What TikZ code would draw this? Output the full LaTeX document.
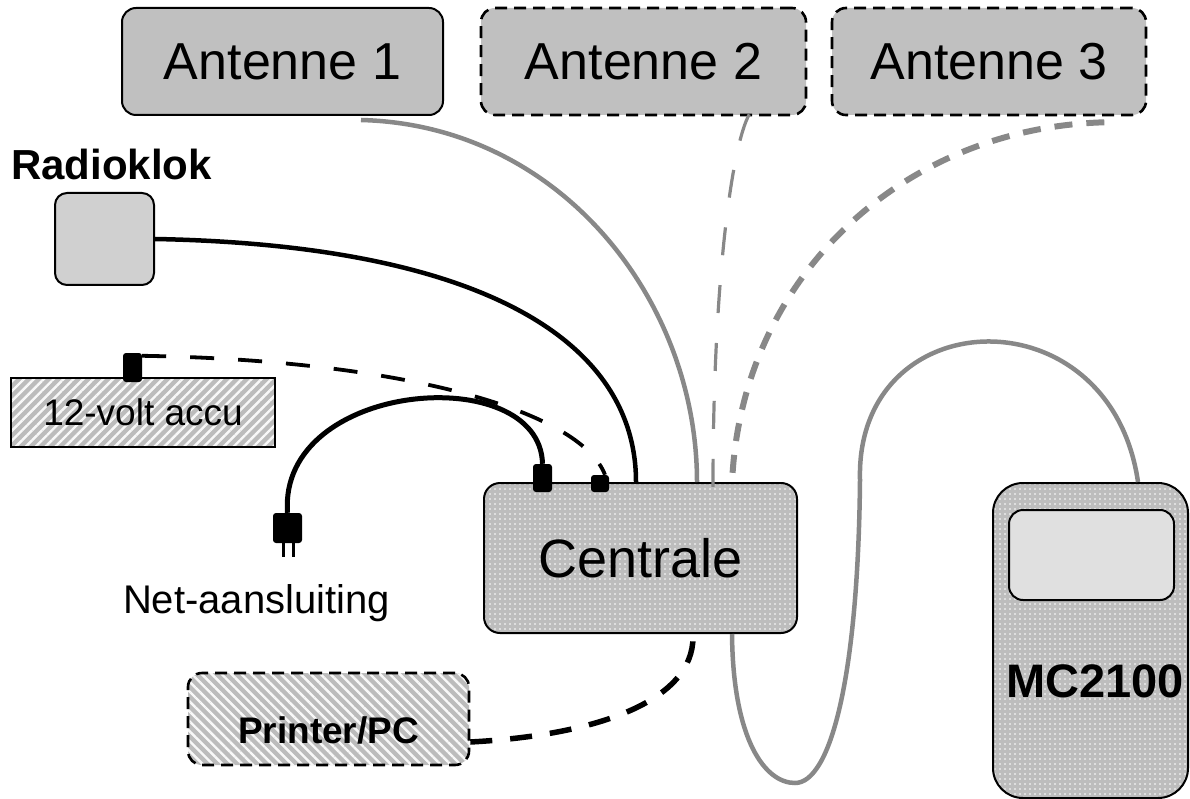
\documentclass[tikz,border=0pt]{standalone}
\usepackage{fontspec}
\setmainfont{Liberation Sans}
\usetikzlibrary{positioning, patterns.meta}

\definecolor{boxgray}{HTML}{C0C0C0}
\definecolor{klokgray}{HTML}{D0D0D0}
\definecolor{screengray}{HTML}{E0E0E0}
\definecolor{dotgray}{HTML}{BDBDBD}
\definecolor{hatchgray}{HTML}{BCBCBC}
\definecolor{cablegray}{HTML}{888888}

\tikzset{
  unit/.style={draw, line width=2pt, rounded corners=14pt, inner sep=0pt},
  antenna/.style={unit, fill=boxgray, minimum width=321pt, minimum height=107pt,
    font=\fontsize{52}{60}\selectfont},
  optional/.style={line width=2.6pt, dash pattern=on 12pt off 7pt},
  dotbox/.style={unit, preaction={fill=dotgray},
    pattern={Dots[distance=5pt,radius=1.1pt]}, pattern color=white!70!dotgray},
  hatchbox/.style={unit, preaction={fill=hatchgray},
    pattern={Lines[angle=#1,distance=7pt,line width=2.4pt]}, pattern color=white!90!hatchgray},
  plug/.style={fill=black, rounded corners=3pt, inner sep=0pt},
  cable/.style={line width=4.5pt, cablegray},
  wire/.style={line width=4.5pt, black},
}

\begin{document}
\begin{tikzpicture}[x=1pt, y=-1pt]
    \useasboundingbox (0,0) rectangle (1190,799);
    % Antennes
    \node (ant1) [antenna] at (282.5,61.5) {Antenne 1};
    \node (ant2) [antenna, optional, minimum width=325pt] at (643.5,61.5) {Antenne 2};
    \node (ant3) [antenna, optional, minimum width=314pt] at (989,61.5) {Antenne 3};

    % Radioklok
    \node (kloklabel) [font=\fontsize{42}{50}\selectfont\bfseries] at (111.5,164) {Radioklok};
    \node (klok) [unit, rounded corners=12pt, fill=klokgray, minimum width=99pt, minimum height=92pt] at (104.5,239) {};

    % Accu, centrale, printer
    \node (accu) [hatchbox=45, rounded corners=0pt, minimum width=264pt, minimum height=69pt,
      font=\fontsize{37}{44}\selectfont] at (143,412.5) {12-volt accu};
    \node (centrale) [dotbox, rounded corners=16pt, minimum width=313pt, minimum height=150pt,
      font=\fontsize{54}{62}\selectfont] at (640.5,558) {Centrale};
    \node (printer) [hatchbox=-45, optional, minimum width=281pt, minimum height=92pt] at (328.5,719) {};
    \node[yshift=-11pt, font=\fontsize{37}{44}\selectfont\bfseries] at (printer) {Printer/PC};

    % MC2100
    \node (mc) [dotbox, rounded corners=30pt, minimum width=195pt, minimum height=315pt] at (1090.5,640.5) {};
    \node (mcscreen) [unit, fill=screengray, minimum width=165pt, minimum height=90pt] at (1091.5,555) {};
    \node (mclabel) [font=\fontsize{47}{56}\selectfont\bfseries] at (1095,681.5) {MC2100};

    % Plugs
    \node (accuplug) [plug, minimum width=19pt, minimum height=29pt] at (132.5,367.5) {};
    \node (netplug) [plug, minimum width=29pt, minimum height=30pt] at (287.5,528) {};
    \node (bigplug) [plug, minimum width=19pt, minimum height=28pt] at (542.5,478) {};
    \node (smallplug) [plug, minimum width=18pt, minimum height=17pt] at (600,483.5) {};
    \draw [line width=3pt] ([xshift=-4.5pt]netplug.south) -- ++(0,14);
    \draw [line width=3pt] ([xshift=5.5pt]netplug.south) -- ++(0,14);
    \node (netlabel) [font=\fontsize{40}{48}\selectfont] at (256.5,603) {Net-aansluiting};

    % Black wires
    \draw [wire] (klok.east) .. controls (480,245) and (636,340) .. ([xshift=-4.5pt]centrale.north);
    \draw [wire, line width=5pt] (netplug.north) .. controls (278,380) and (540,360) .. (bigplug.north);
    \draw [wire, line width=3.8pt, dash pattern=on 24pt off 24pt]
      ([yshift=-3pt]accuplug.north east) .. controls (400,360) and (580,410) .. ([xshift=5pt]smallplug.north);
    \draw [wire, line width=5.5pt, dash pattern=on 22pt off 18pt]
      ([yshift=-23pt]printer.east) .. controls (600,735) and (693,700) .. ([xshift=52.5pt,yshift=-3pt]centrale.south);

    % Grey cables
    \draw [cable] ([xshift=-83pt,yshift=-4pt]ant1.south east) .. controls (560,125) and (697,300) .. ([xshift=56.5pt]centrale.north);
    \draw [cable, line width=3.2pt, dash pattern=on 28pt off 30pt]
      ([xshift=-58pt,yshift=2pt]ant2.south east) .. controls (732,145) and (713,280) .. ([xshift=72.5pt,yshift=-5pt]centrale.north);
    \draw [cable, line width=6pt, dash pattern=on 18pt off 14pt]
      ([xshift=-43pt,yshift=-6pt]ant3.south east) .. controls (900,128) and (740,280) .. ([xshift=91.5pt,yshift=-2pt]centrale.north);
    \draw [cable] ([xshift=91.5pt]centrale.south) .. controls (733,740) and (765,783) .. (795,783)
      .. controls (830,783) and (858,680) .. (860,480)
      .. controls (855,300) and (1110,290) .. ([xshift=47.5pt]mc.north);
\end{tikzpicture}
\end{document}
